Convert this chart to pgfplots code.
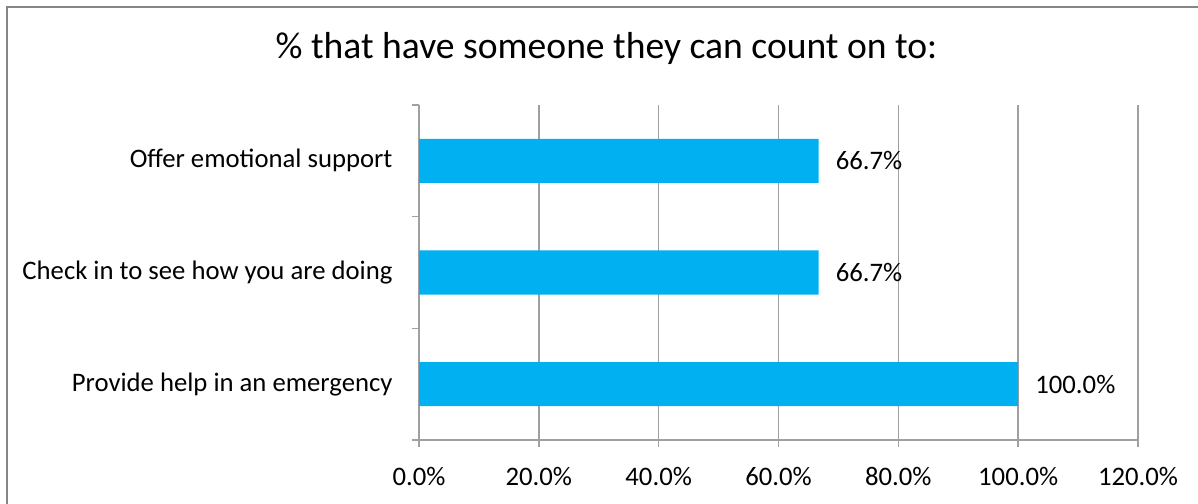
\documentclass[border=0pt]{standalone}
\usepackage{fontspec}
\setmainfont{Carlito}
\usepackage{pgfplots}
\pgfplotsset{compat=1.18}
\definecolor{barblue}{RGB}{0,176,240}
\definecolor{gridgray}{RGB}{160,160,160}
\definecolor{framegray}{RGB}{134,134,134}
\begin{document}
\begin{tikzpicture}[x=1pt,y=1pt]
\path[use as bounding box] (0,0) rectangle (1198,503);
\begin{scope}
\clip (0,0) rectangle (1198,503);
\draw[framegray, line width=2pt] (7,-20) -- (7,496) -- (1220,496);
\end{scope}
\node[font=\fontsize{37.6}{44}\selectfont, anchor=center] at (606.5,455) {\% that have someone they can count on to:};
\begin{axis}[
  at={(419pt,63pt)}, anchor=south west,
  scale only axis, width=719pt, height=335pt,
  xbar, bar width=44pt,
  xmin=0, xmax=120, ymin=0.5, ymax=3.5,
  xtick={0,20,40,60,80,100,120},
  xticklabels={0.0\%,20.0\%,40.0\%,60.0\%,80.0\%,100.0\%,120.0\%},
  ytick={0.5,1.5,2.5,3.5},
  y tick label as interval,
  yticklabels={Provide help in an emergency,Check in to see how you are doing,Offer emotional support},
  tick align=outside, major tick length=7pt,
  tick style={gridgray, line width=1.5pt},
  xmajorgrids, ymajorgrids=false,
  major grid style={gridgray, line width=1.5pt},
  axis x line*=bottom, axis y line*=left,
  axis line style={gridgray, line width=1.5pt, -},
  ticklabel style={font=\fontsize{26.7}{31}\selectfont, text=black},
  xticklabel style={yshift=-17pt},
  yticklabel style={xshift=-16pt},
  nodes near coords={\pgfmathprintnumber[fixed,fixed zerofill,precision=1,assume math mode=true]{\pgfplotspointmeta}\%},
  nodes near coords align=horizontal,
  every node near coord/.append style={font=\fontsize{26.7}{31}\selectfont, anchor=west, inner sep=0pt, xshift=17pt, text=black},
  clip=false,
]
\addplot[fill=barblue, draw=none] coordinates {(100,1) (66.7,2) (66.7,3)};
\end{axis}
\end{tikzpicture}
\end{document}
